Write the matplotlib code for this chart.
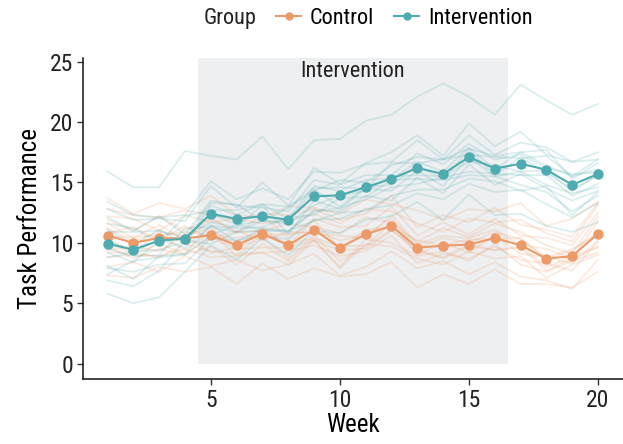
import matplotlib
matplotlib.use("Agg")
import matplotlib.pyplot as plt
from matplotlib import font_manager
from matplotlib.lines import Line2D

# ---- fonts ----
_names = {f.name for f in font_manager.fontManager.ttflist}
for _fam in ["Roboto Condensed", "Liberation Sans Narrow", "Roboto", "DejaVu Sans"]:
    if _fam in _names:
        FONT = _fam
        break
plt.rcParams["font.family"] = [FONT, "DejaVu Sans"]

# ---- data ----
weeks = list(range(1, 21))
groups = ["Control", "Intervention"]

control_mean = [10.6, 10.0, 10.4, 10.35, 10.65, 9.8, 10.76, 9.8, 11.1, 9.6,
                10.7, 11.4, 9.6, 9.77, 9.85, 10.4, 9.8, 8.7, 8.9, 10.76]
intervention_mean = [9.93, 9.44, 10.18, 10.35, 12.42, 11.98, 12.2, 11.92, 13.85, 13.93,
                     14.6, 15.3, 16.2, 15.7, 17.1, 16.15, 16.55, 16.05, 14.8, 15.7]

control_subjects = [
    [13.7, 12.4, 13.3, 12.8, 13.9, 12.3, 12.1, 13.0, 12.9, 12.4, 13.6, 13.2, 12.7, 11.9, 12.8, 12.6, 13.3, 11.4, 12.0, 13.4],
    [8.0, 8.4, 7.6, 8.9, 8.1, 8.6, 7.7, 8.2, 9.1, 7.3, 8.0, 9.3, 7.9, 8.5, 7.4, 8.4, 7.2, 6.9, 6.2, 8.6],
    [11.6, 10.4, 11.5, 10.2, 12.0, 10.9, 11.0, 11.6, 11.3, 10.8, 12.1, 11.7, 10.1, 11.2, 10.5, 11.6, 10.9, 9.8, 9.1, 12.2],
    [9.4, 9.7, 9.3, 10.6, 9.2, 9.6, 10.4, 8.7, 10.6, 8.5, 9.7, 11.1, 9.3, 8.8, 9.9, 9.4, 9.6, 7.7, 8.7, 9.6],
    [12.2, 12.0, 11.0, 12.3, 11.7, 12.0, 11.6, 11.8, 12.4, 11.6, 12.8, 12.6, 11.6, 10.9, 12.0, 11.7, 11.9, 10.8, 10.1, 13.1],
    [10.3, 9.3, 10.7, 9.4, 10.9, 8.9, 10.8, 9.9, 10.4, 9.7, 9.8, 11.6, 9.0, 10.0, 9.2, 10.6, 9.1, 8.8, 8.3, 10.2],
    [8.8, 9.0, 8.9, 9.5, 8.8, 8.9, 9.2, 8.2, 10.2, 7.9, 9.9, 9.7, 8.7, 8.2, 9.3, 8.7, 8.9, 7.1, 8.2, 9.0],
    [11.9, 11.0, 12.2, 11.0, 12.1, 10.8, 12.3, 10.4, 12.0, 11.3, 11.4, 13.0, 10.6, 11.7, 10.7, 12.0, 10.6, 10.4, 9.8, 12.5],
    [10.0, 9.1, 9.9, 9.1, 10.5, 9.5, 9.6, 9.6, 10.2, 9.4, 9.5, 11.0, 9.5, 8.7, 9.7, 9.4, 9.7, 8.0, 8.9, 9.7],
    [7.3, 7.1, 8.0, 7.6, 8.0, 6.6, 8.3, 7.0, 7.9, 7.2, 7.4, 8.4, 6.3, 7.4, 6.6, 7.8, 6.6, 6.6, 6.3, 7.6],
    [10.5, 10.5, 10.6, 10.9, 10.6, 10.4, 10.7, 10.7, 11.0, 10.2, 10.7, 12.0, 9.6, 10.4, 10.0, 10.9, 10.3, 8.8, 9.5, 10.8],
    [12.8, 12.3, 12.1, 12.7, 12.3, 11.9, 12.4, 12.3, 12.8, 11.9, 12.4, 13.9, 11.3, 12.3, 11.7, 12.9, 11.5, 11.1, 10.5, 13.3],
    [9.2, 9.2, 8.8, 9.9, 9.3, 9.1, 9.2, 9.3, 9.8, 8.9, 9.3, 10.6, 8.3, 9.1, 8.7, 9.7, 8.6, 8.3, 7.7, 10.1],
    [11.2, 10.1, 10.9, 10.6, 11.2, 9.7, 11.2, 9.8, 11.9, 9.5, 11.1, 11.3, 10.2, 9.8, 10.3, 10.3, 10.4, 8.6, 9.4, 10.7],
    [10.8, 11.3, 10.2, 11.4, 10.3, 11.0, 10.2, 10.9, 10.8, 10.6, 10.4, 12.3, 9.9, 10.6, 10.4, 11.1, 9.8, 9.5, 8.7, 11.8],
    [9.7, 8.7, 9.5, 9.0, 9.7, 8.2, 9.9, 8.5, 10.3, 8.0, 10.3, 10.0, 8.9, 9.3, 8.5, 9.9, 8.2, 7.6, 8.5, 9.2],
]

intervention_subjects = [
    [15.9, 14.6, 14.6, 17.6, 17.2, 16.9, 18.8, 16.1, 18.5, 18.6, 20.1, 20.6, 22.1, 23.2, 22.1, 20.6, 23.1, 21.8, 20.6, 21.5],
    [5.8, 5.0, 5.5, 7.6, 9.8, 8.6, 10.4, 9.0, 11.0, 10.8, 11.9, 12.2, 13.4, 11.9, 14.0, 12.3, 12.4, 11.4, 10.9, 11.7],
    [12.8, 11.9, 12.0, 11.8, 14.7, 12.9, 15.0, 13.1, 16.2, 14.9, 16.6, 17.5, 18.9, 17.2, 19.9, 18.0, 19.2, 17.3, 16.7, 16.9],
    [8.1, 7.0, 8.9, 9.1, 11.5, 10.1, 11.2, 11.0, 12.7, 12.6, 13.9, 13.5, 15.4, 14.1, 16.5, 14.8, 15.7, 14.5, 13.5, 14.3],
    [10.9, 10.9, 11.0, 10.4, 13.3, 13.2, 11.8, 12.9, 14.3, 15.2, 15.0, 16.4, 17.1, 16.9, 17.8, 17.2, 17.5, 17.7, 15.3, 16.6],
    [9.2, 8.4, 10.2, 10.5, 11.7, 11.3, 13.1, 10.7, 13.5, 12.8, 14.5, 14.3, 16.0, 14.7, 17.1, 15.5, 15.9, 14.8, 14.1, 14.6],
    [11.6, 11.2, 10.0, 12.2, 12.7, 12.7, 13.2, 13.0, 14.5, 14.6, 14.5, 16.6, 16.6, 16.9, 17.3, 17.1, 17.0, 17.2, 15.5, 16.9],
    [7.4, 8.5, 8.8, 9.0, 10.6, 11.5, 11.1, 10.9, 12.6, 12.9, 13.6, 14.6, 14.9, 15.4, 15.9, 15.7, 15.6, 15.6, 13.9, 14.9],
    [13.4, 12.3, 12.1, 12.3, 15.1, 13.6, 14.5, 13.6, 15.9, 15.8, 16.5, 16.7, 18.5, 16.9, 18.9, 17.3, 18.3, 17.9, 16.7, 17.5],
    [8.8, 9.2, 10.3, 9.6, 11.4, 11.2, 11.3, 12.1, 12.3, 13.7, 13.8, 15.2, 15.3, 15.2, 15.6, 15.5, 14.8, 14.2, 12.6, 13.9],
    [10.2, 9.3, 9.4, 10.1, 12.4, 11.5, 11.8, 11.8, 14.4, 13.0, 14.6, 14.8, 16.4, 15.3, 17.7, 15.6, 17.1, 15.8, 14.4, 15.6],
    [6.9, 6.4, 7.7, 10.2, 9.9, 10.9, 11.0, 11.0, 11.8, 12.5, 12.6, 13.9, 14.4, 14.4, 15.3, 15.1, 14.3, 14.7, 12.3, 14.2],
    [11.1, 9.8, 11.1, 9.9, 13.1, 12.3, 13.2, 12.0, 14.7, 14.3, 15.2, 15.3, 16.7, 15.9, 17.9, 16.1, 17.5, 16.4, 15.5, 16.1],
    [9.5, 8.9, 9.0, 11.2, 11.3, 10.9, 11.8, 11.6, 13.1, 13.9, 14.3, 15.5, 15.6, 15.5, 16.7, 16.4, 15.9, 16.0, 14.3, 15.6],
    [12.1, 11.0, 12.2, 10.7, 13.5, 13.1, 12.9, 12.6, 15.2, 14.8, 15.6, 15.6, 17.4, 16.5, 18.2, 16.9, 17.3, 16.2, 15.7, 15.8],
    [7.9, 7.6, 8.2, 8.3, 10.4, 10.2, 10.6, 10.3, 11.9, 12.0, 12.8, 13.1, 14.1, 13.6, 14.9, 14.2, 14.4, 13.2, 12.1, 13.3],
]

phase_start, phase_end = 4.5, 16.5
phase_label = "Intervention"

COLORS = {"Control": "#EC9A67", "Intervention": "#4EABAF"}

# ---- figure ----
fig = plt.figure(figsize=(6.23, 4.44), dpi=100)
ax = fig.add_axes([0.1332, 0.1464, 0.866, 0.723])

ax.axvspan(phase_start, phase_end, ymin=1.27 / 26.57, ymax=1.0,
           color="#EEEFF1", zorder=0, lw=0)
ax.text((phase_start + phase_end) / 2, 24.2, phase_label, ha="center",
        va="center", fontsize=16, color="#222222")

for subj in control_subjects:
    ax.plot(weeks, subj, color=COLORS["Control"], alpha=0.2, lw=1.3, zorder=1)
for subj in intervention_subjects:
    ax.plot(weeks, subj, color=COLORS["Intervention"], alpha=0.2, lw=1.3, zorder=1)

ax.plot(weeks, control_mean, color=COLORS["Control"], lw=1.5, marker="o",
        ms=6.5, zorder=3)
ax.plot(weeks, intervention_mean, color=COLORS["Intervention"], lw=1.5,
        marker="o", ms=6.5, zorder=3)

ax.set_xlim(0.05, 20.95)
ax.set_ylim(-1.27, 25.3)
ax.set_xticks([5, 10, 15, 20])
ax.set_yticks([0, 5, 10, 15, 20, 25])
ax.tick_params(labelsize=17, length=4, width=1, color="#333333",
               labelcolor="#222222", pad=3)
for s in ["top", "right"]:
    ax.spines[s].set_visible(False)
for s in ["left", "bottom"]:
    ax.spines[s].set_linewidth(1.1)
    ax.spines[s].set_color("#111111")

ax.set_xlabel("Week", fontsize=18, labelpad=1)
ax.set_ylabel("Task Performance", fontsize=18, labelpad=6)

# ---- legend ----
handles = [Line2D([], [], color=COLORS[g], lw=1.5, marker="o", ms=5) for g in groups]
fig.text(0.3274, 0.959, "Group", fontsize=16, ha="left", va="center", color="#222222")
fig.legend(handles, groups, loc="center left", bbox_to_anchor=(0.443, 0.959),
           ncol=2, frameon=False, fontsize=16, handlelength=1.13,
           handletextpad=0.4, columnspacing=0.9, borderaxespad=0, borderpad=0)

fig.savefig("out.png", dpi=100)
